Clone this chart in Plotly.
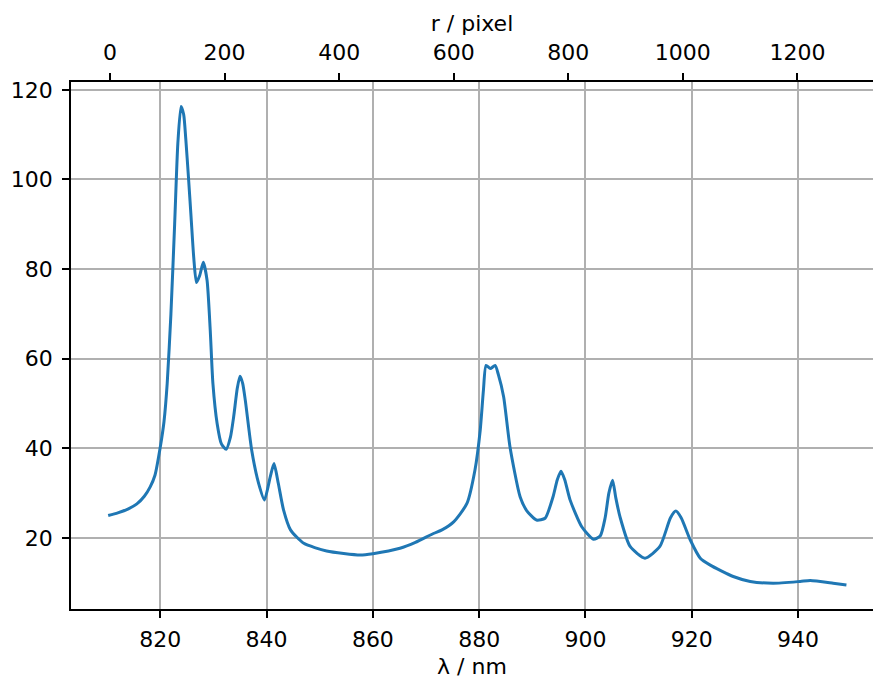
import plotly.graph_objects as go

# Spectrum: wavelength (nm) and intensity
wavelength_nm = [
    810.2, 812.0, 814.0, 815.6, 817.0, 818.1, 819.0, 820.0, 820.7, 821.3,
    822.0, 822.7, 823.3, 823.9, 824.4, 824.8, 825.3, 825.8, 826.3, 826.8,
    827.4, 828.1, 828.8, 829.4, 829.9, 830.7, 831.5, 832.4, 833.2, 833.8,
    834.5, 835.0, 835.5, 836.0, 837.2, 838.5, 839.6, 840.7, 841.4, 842.2,
    843.2, 844.5, 847.0, 851.3, 857.6, 860.0, 865.1, 868.0, 871.4, 873.0,
    875.2, 877.7, 879.2, 880.2, 880.8, 881.3, 882.1, 883.0, 883.6, 884.6,
    885.8, 887.7, 889.0, 890.8, 892.4, 893.9, 894.7, 895.4, 896.1, 897.1,
    899.3, 901.5, 902.8, 903.7, 904.4, 905.1, 905.7, 906.5, 908.4, 911.2,
    914.0, 916.0, 917.0, 918.0, 919.7, 921.6, 923.4, 927.8, 931.0, 935.3,
    940.4, 942.3, 946.6, 949.1,
]
intensity = [
    25.0, 25.6, 26.5, 27.6, 29.3, 31.4, 34.0, 40.3, 46.0, 54.5,
    70.0, 90.0, 108.0, 116.3, 114.5, 109.0, 100.5, 91.5, 82.5, 77.0,
    78.5, 81.5, 77.5, 66.3, 54.5, 45.5, 41.0, 39.8, 42.5, 47.0,
    53.5, 56.1, 54.5, 50.7, 39.6, 32.2, 28.5, 33.7, 36.6, 32.2,
    26.2, 21.8, 18.8, 17.1, 16.2, 16.5, 17.7, 19.0, 21.0, 21.8,
    23.6, 27.7, 35.1, 44.1, 53.0, 58.5, 57.8, 58.5, 56.5, 51.5,
    40.3, 29.2, 26.0, 24.0, 24.4, 29.2, 33.0, 34.9, 33.0, 28.5,
    22.5, 19.7, 20.5, 24.5, 30.0, 32.9, 29.0, 24.7, 18.1, 15.5,
    18.1, 24.5, 26.0, 24.5, 19.6, 15.5, 14.0, 11.4, 10.3, 9.9,
    10.3, 10.5, 9.9, 9.5,
]

# Detector pixel r maps linearly onto wavelength: nm = NM0 + DNM * r
NM0 = 810.54
DNM = 0.10778
pixel_extent = [0, 1287]

x_range = [803.2, 954.1]
y_range = [4.15, 121.75]
x2_range = [(v - NM0) / DNM for v in x_range]

FONT = "DejaVu Sans"
FS = 22
GRID = "#b0b0b0"

fig = go.Figure()
fig.add_trace(go.Scatter(
    x=wavelength_nm, y=intensity, mode="lines",
    line=dict(color="#1f77b4", width=3, shape="spline", smoothing=0.6),
    showlegend=False, hoverinfo="skip",
))
# helper trace so the pixel axis is drawn
fig.add_trace(go.Scatter(
    x=pixel_extent, y=[y_range[0], y_range[0]], xaxis="x2", yaxis="y",
    mode="lines", line=dict(width=0), opacity=0,
    showlegend=False, hoverinfo="skip",
))

axis_common = dict(
    ticks="outside", ticklen=7, tickwidth=1.6, tickcolor="black",
    showline=True, linecolor="black", linewidth=1.6,
    zeroline=False, tickfont=dict(family=FONT, size=FS, color="black"),
)

fig.update_layout(
    width=873, height=679,
    margin=dict(l=71, r=0, t=82, b=70),
    paper_bgcolor="white", plot_bgcolor="white",
    font=dict(family=FONT, size=FS, color="black"),
    xaxis=dict(
        range=x_range, tickmode="array", tickvals=list(range(820, 950, 20)),
        showgrid=True, gridcolor=GRID, gridwidth=1.6, ticklabelstandoff=3,
        title=dict(text="λ / nm", font=dict(family=FONT, size=FS), standoff=12),
        **axis_common,
    ),
    xaxis2=dict(
        range=x2_range, overlaying="x", side="top", anchor="y",
        tickmode="array", tickvals=list(range(0, 1300, 200)),
        showgrid=False, ticklabelstandoff=4,
        title=dict(text="r / pixel", font=dict(family=FONT, size=FS), standoff=3),
        **axis_common,
    ),
    yaxis=dict(
        range=y_range, tickmode="array", tickvals=list(range(20, 140, 20)),
        showgrid=True, gridcolor=GRID, gridwidth=1.6, ticklabelstandoff=5,
        **axis_common,
    ),
)

fig.write_html("out.html")
